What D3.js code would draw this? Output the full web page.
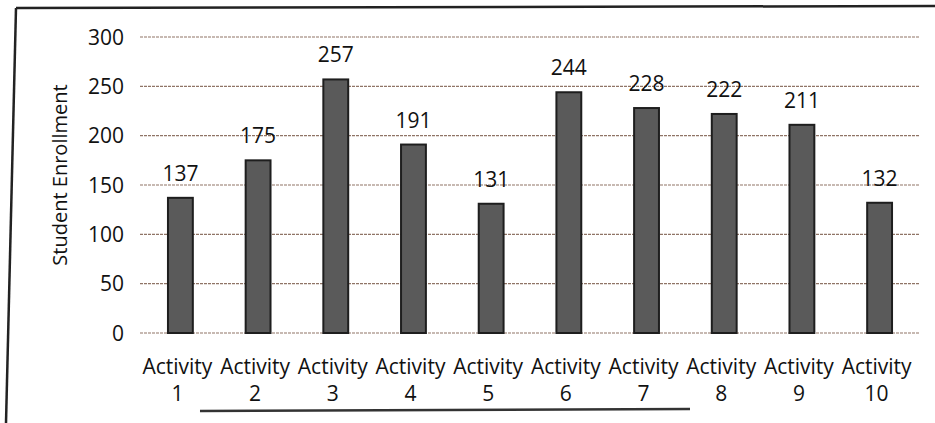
<!DOCTYPE html>
<html>
  <head>
    <meta charset="utf-8">
    <title>Student Enrollment</title>
    <script src="https://d3js.org/d3.v7.min.js"></script>
    <style>
      body { margin: 0; background: #fff; font-family: 'Open Sans', sans-serif; }
      .grid line { stroke: #8f7466; stroke-width: 1.2px; stroke-dasharray: 3 1; }
      .bar { fill: #5a5a5a; stroke: #1e1e1e; stroke-width: 2px; }
      text { fill: #111; }
    </style>
  </head>
  <body>
    <div id="chart"></div>
    <script>
// values
var activities = ["1", "2", "3", "4", "5", "6", "7", "8", "9", "10"];
var enrollment = [137, 175, 257, 191, 131, 244, 228, 222, 211, 132];
var yTicks = [0, 50, 100, 150, 200, 250, 300];
var yTitle = "Student Enrollment";

var width = 935, height = 423;
var plotLeft = 140, plotRight = 920, plotTop = 37, plotBottom = 333;

var svg = d3.select("#chart").append("svg")
    .attr("width", width)
    .attr("height", height);

// photographed frame
svg.append("line").attr("x1", 16).attr("y1", 8).attr("x2", 935).attr("y2", 6)
    .attr("stroke", "#222").attr("stroke-width", 2.5);
svg.append("line").attr("x1", 16).attr("y1", 8).attr("x2", 6).attr("y2", 423)
    .attr("stroke", "#222").attr("stroke-width", 2.5);
svg.append("line").attr("x1", 200).attr("y1", 411).attr("x2", 690).attr("y2", 409)
    .attr("stroke", "#333").attr("stroke-width", 2.5);

var x = d3.scaleBand()
    .domain(activities)
    .range([plotLeft, plotRight])
    .paddingInner(0.68)
    .paddingOuter(0.36);

var y = d3.scaleLinear()
    .domain([0, 300])
    .range([plotBottom, plotTop]);

svg.append("g")
    .attr("class", "grid")
  .selectAll("line")
    .data(yTicks)
  .enter().append("line")
    .attr("x1", plotLeft)
    .attr("x2", plotRight)
    .attr("y1", function(d) { return y(d); })
    .attr("y2", function(d) { return y(d); });

svg.append("g")
  .selectAll("text")
    .data(yTicks)
  .enter().append("text")
    .attr("x", plotLeft - 16)
    .attr("y", function(d) { return y(d); })
    .attr("dy", "0.36em")
    .attr("text-anchor", "end")
    .style("font-size", "21px")
    .text(function(d) { return d; });

svg.append("text")
    .attr("transform", "translate(67," + ((plotTop + plotBottom) / 2 - 10) + ") rotate(-90)")
    .attr("text-anchor", "middle")
    .style("font-size", "20px")
    .text(yTitle);

svg.selectAll(".bar")
    .data(enrollment)
  .enter().append("rect")
    .attr("class", "bar")
    .attr("x", function(d, i) { return x(activities[i]); })
    .attr("width", x.bandwidth())
    .attr("y", function(d) { return y(d); })
    .attr("height", function(d) { return y(0) - y(d); });

svg.selectAll(".val")
    .data(enrollment)
  .enter().append("text")
    .attr("class", "val")
    .attr("x", function(d, i) { return x(activities[i]) + x.bandwidth() / 2; })
    .attr("y", function(d) { return y(d) - 17; })
    .attr("text-anchor", "middle")
    .style("font-size", "21px")
    .text(function(d) { return d; });

var lab = svg.selectAll(".lab")
    .data(activities)
  .enter().append("text")
    .attr("class", "lab")
    .attr("text-anchor", "middle")
    .style("font-size", "21px");
lab.append("tspan")
    .attr("x", function(d) { return x(d) + x.bandwidth() / 2 - 3; })
    .attr("y", 374)
    .text("Activity");
lab.append("tspan")
    .attr("x", function(d) { return x(d) + x.bandwidth() / 2 - 3; })
    .attr("y", 401)
    .text(function(d) { return d; });
    </script>
  </body>
</html>
